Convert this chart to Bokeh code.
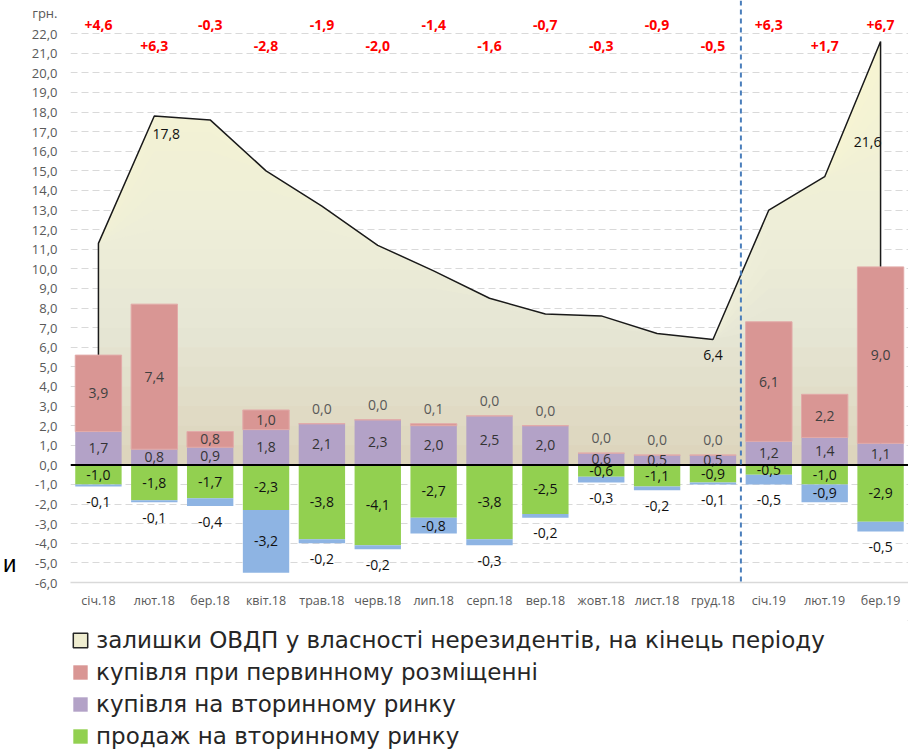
import numpy as np
from bokeh.plotting import figure
from bokeh.layouts import column
from bokeh.models import (FactorRange, Range1d, FixedTicker, LinearAxis,
                          CustomJSTickFormatter, Span, Legend, LegendItem)
from bokeh.core.properties import value
from bokeh.embed import file_html
from bokeh.resources import INLINE

# ---------------- data ----------------
months = ["січ.18", "лют.18", "бер.18", "квіт.18", "трав.18", "черв.18", "лип.18",
          "серп.18", "вер.18", "жовт.18", "лист.18", "груд.18", "січ.19", "лют.19", "бер.19"]
holdings = [11.3, 17.8, 17.6, 15.0, 13.2, 11.2, 9.9, 8.5, 7.7, 7.6, 6.7, 6.4, 13.0, 14.7, 21.6]
holdings_change = [4.6, 6.3, -0.3, -2.8, -1.9, -2.0, -1.4, -1.6, -0.7, -0.3, -0.9, -0.5, 6.3, 1.7, 6.7]
primary_buy = [3.9, 7.4, 0.8, 1.0, 0.0, 0.0, 0.1, 0.0, 0.0, 0.0, 0.0, 0.0, 6.1, 2.2, 9.0]
secondary_buy = [1.7, 0.8, 0.9, 1.8, 2.1, 2.3, 2.0, 2.5, 2.0, 0.6, 0.5, 0.5, 1.2, 1.4, 1.1]
secondary_sell = [-1.0, -1.8, -1.7, -2.3, -3.8, -4.1, -2.7, -3.8, -2.5, -0.6, -1.1, -0.9, -0.5, -1.0, -2.9]
redemption = [-0.1, -0.1, -0.4, -3.2, -0.2, -0.2, -0.8, -0.3, -0.2, -0.3, -0.2, -0.1, -0.5, -0.9, -0.5]
labelled_holdings = ["лют.18", "груд.18", "бер.19"]
y_ticks = list(range(-6, 23))
legend_labels = ["залишки ОВДП у власності нерезидентів, на кінець періоду",
                 "купівля при первинному розміщенні",
                 "купівля на вторинному ринку",
                 "продаж на вторинному ринку"]
unit_label = "грн."
stray_text = "и"

# ---------------- styling ----------------
C_PINK = "#d99694"
C_PURPLE = "#b3a2c7"
C_GREEN = "#92d050"
C_BLUE = "#8eb4e3"
C_AREA_LEG = "#efedd0"
FONT = "Open Sans"
BAR_W = 0.83
UNIT_POS = 23.05      # vertical spot of the unit caption
STRAY_POS = -5.03     # vertical spot of the stray letter
FRAME_LEFT = 69


def fmt(v):
    return f"{v:.1f}".replace(".", ",")


def fmt_signed(v):
    return f"{v:+.1f}".replace(".", ",")


p = figure(x_range=FactorRange(factors=months), y_range=Range1d(-6, 23.69),
           width=908, height=620, output_backend="svg", toolbar_location=None,
           min_border_left=FRAME_LEFT, min_border_right=0, min_border_top=0,
           min_border_bottom=38, outline_line_color=None,
           background_fill_color="white", border_fill_color="white")

# axes / grid
yax = p.yaxis[0]
yax.ticker = FixedTicker(ticks=y_ticks + [UNIT_POS])
yax.formatter = CustomJSTickFormatter(
    args=dict(unit=unit_label, lim=y_ticks[-1] + 0.5),
    code="if (tick > lim) { return unit; } return tick.toFixed(1).replace('.', ',');")
yax.axis_line_color = None
yax.major_tick_line_color = None
yax.minor_tick_line_color = None
yax.major_tick_out = 0
yax.major_tick_in = 0
yax.minor_tick_out = 0
yax.minor_tick_in = 0
yax.major_label_text_font = FONT
yax.major_label_text_font_size = "13px"
yax.major_label_text_color = "#595959"
yax.major_label_standoff = 13

ax2 = LinearAxis(ticker=FixedTicker(ticks=[STRAY_POS]),
                 formatter=CustomJSTickFormatter(args=dict(t=stray_text), code="return t;"),
                 axis_line_color=None, major_tick_line_color=None, minor_tick_line_color=None,
                 major_tick_out=0, major_tick_in=0, minor_tick_out=0, minor_tick_in=0,
                 major_label_text_font="Liberation Sans", major_label_text_font_size="24px",
                 major_label_text_color="#000000", major_label_standoff=12)
p.add_layout(ax2, "left")

xax = p.xaxis[0]
xax.axis_line_color = "#d9d9d9"
xax.axis_line_width = 1.5
xax.major_tick_line_color = None
xax.minor_tick_line_color = None
xax.major_tick_out = 0
xax.major_tick_in = 0
xax.minor_tick_out = 0
xax.minor_tick_in = 0
xax.major_label_text_font = FONT
xax.major_label_text_font_size = "12.5px"
xax.major_label_text_color = "#595959"
xax.major_label_standoff = 9

p.xgrid.grid_line_color = None
p.ygrid.ticker = FixedTicker(ticks=y_ticks)
p.ygrid.grid_line_color = "#d9d9d9"
p.ygrid.grid_line_dash = "7 4"
p.ygrid.grid_line_width = 1

# ---------------- area (holdings) with vertical gradient ----------------
h = np.array(holdings)
stops = [(0.0, (220, 212, 187)), (7.0, (230, 230, 213)), (12.0, (238, 238, 216)), (22.0, (247, 245, 210))]


def grad(v):
    xs = [s[0] for s in stops]
    rgb = [int(round(np.interp(v, xs, [s[1][k] for s in stops]))) for k in range(3)]
    return "#%02x%02x%02x" % tuple(rgb)


p.varea(x=months, y1=0, y2=h, fill_color=grad(h.max()))
for L in np.arange(np.floor(h.max()), 0, -1.0):
    p.varea(x=months, y1=0, y2=np.minimum(h, L), fill_color=grad(L - 0.5))

p.line(x=[months[0]] + months + [months[-1]], y=[0] + holdings + [0],
       line_color="#1a1a1a", line_width=1.5)

# ---------------- stacked bars ----------------
sb = np.array(secondary_buy)
pb = np.array(primary_buy)
ss = np.array(secondary_sell)
rd = np.array(redemption)

p.vbar(x=months, bottom=0, top=sb, width=BAR_W, fill_color=C_PURPLE, line_color=None)
p.vbar(x=months, bottom=sb, top=sb + pb, width=BAR_W, fill_color=C_PINK,
       line_color="#e2aaa9", line_width=1)
p.vbar(x=months, bottom=ss, top=0, width=BAR_W, fill_color=C_GREEN, line_color=None)
p.vbar(x=months, bottom=ss + rd, top=ss, width=BAR_W, fill_color=C_BLUE, line_color=None)

# zero line
p.add_layout(Span(location=0, dimension="width", line_color="black", line_width=2))

# 2018 / 2019 divider
sep = next(i for i, m in enumerate(months) if m.endswith("19"))
p.add_layout(Span(location=sep, dimension="height", line_color="#4a7ebb",
                  line_width=2, line_dash="5 4"))

# ---------------- labels ----------------
common = dict(text_font=value(FONT), text_font_size="14px", text_align="center",
              text_baseline="middle")

# purple labels (inside)
p.text(x=months, y=sb / 2, text=[fmt(v) for v in secondary_buy], text_color="#333333", **common)

# pink labels: inside if large, above otherwise
pin_x, pin_y, pin_t, pout_x, pout_y, pout_t = [], [], [], [], [], []
for m, s, v in zip(months, secondary_buy, primary_buy):
    if v >= 0.8:
        pin_x.append(m); pin_y.append(s + v / 2); pin_t.append(fmt(v))
    else:
        pout_x.append(m); pout_y.append(s + v + 0.75); pout_t.append(fmt(v))
p.text(x=pin_x, y=pin_y, text=pin_t, text_color="#404040", **common)
p.text(x=pout_x, y=pout_y, text=pout_t, text_color="#595959", **common)

# green labels (inside)
p.text(x=months, y=ss / 2, text=[fmt(v) for v in secondary_sell], text_color="#111111", **common)

# blue labels: inside if large, below otherwise
bl_y = [s + v / 2 if v <= -0.8 else s + v - 0.8 for s, v in zip(secondary_sell, redemption)]
p.text(x=months, y=bl_y, text=[fmt(v) for v in redemption], text_color="#111111", **common)

# holdings labels
hl_idx = [months.index(m) for m in labelled_holdings]
hl_dx = [12, 0, -13]
hl_dy = [18, 16, 101]
p.text(x=labelled_holdings, y=[holdings[i] for i in hl_idx],
       text=[fmt(holdings[i]) for i in hl_idx], x_offset=hl_dx, y_offset=hl_dy,
       text_color="#111111", **common)

# change labels (red), alternating rows
ch_y = [22.43 if i % 2 == 0 else 21.35 for i in range(len(months))]
p.text(x=months, y=ch_y, text=[fmt_signed(v) for v in holdings_change],
       text_color="#ff0000", text_font_style="bold",
       text_font=value(FONT), text_font_size="14px", text_align="center", text_baseline="middle")

# ---------------- legend (separate strip below the chart) ----------------
lg = figure(width=908, height=129, output_backend="svg", toolbar_location=None,
            x_range=Range1d(0, 1), y_range=Range1d(0, 1), x_axis_type=None, y_axis_type=None,
            min_border_left=FRAME_LEFT, min_border_right=0, min_border_top=0, min_border_bottom=0,
            outline_line_color=None, background_fill_color="white", border_fill_color="white")
lg.xgrid.grid_line_color = None
lg.ygrid.grid_line_color = None
# swatch renderers kept outside the visible range (only their legend glyphs show)
off = dict(x=[5], top=[5], bottom=[4], width=0.5)
leg_area = lg.vbar(**off, fill_color=C_AREA_LEG, line_color="#262626", line_width=1.5)
leg_pink = lg.vbar(**off, fill_color=C_PINK, line_color=None)
leg_purple = lg.vbar(**off, fill_color=C_PURPLE, line_color=None)
leg_green = lg.vbar(**off, fill_color=C_GREEN, line_color=None)

legend = Legend(items=[LegendItem(label=legend_labels[0], renderers=[leg_area]),
                       LegendItem(label=legend_labels[1], renderers=[leg_pink]),
                       LegendItem(label=legend_labels[2], renderers=[leg_purple]),
                       LegendItem(label=legend_labels[3], renderers=[leg_green])],
                location=(1, 0), orientation="vertical", border_line_color=None,
                background_fill_alpha=0, label_text_font="DejaVu Sans",
                label_text_font_size="23px", label_text_color="#262626",
                glyph_width=18, glyph_height=18, label_height=26, spacing=6,
                padding=0, margin=0, label_standoff=7)
lg.add_layout(legend)

layout = column(p, lg, spacing=0)
open("out.html", "w").write(file_html(layout, INLINE))
